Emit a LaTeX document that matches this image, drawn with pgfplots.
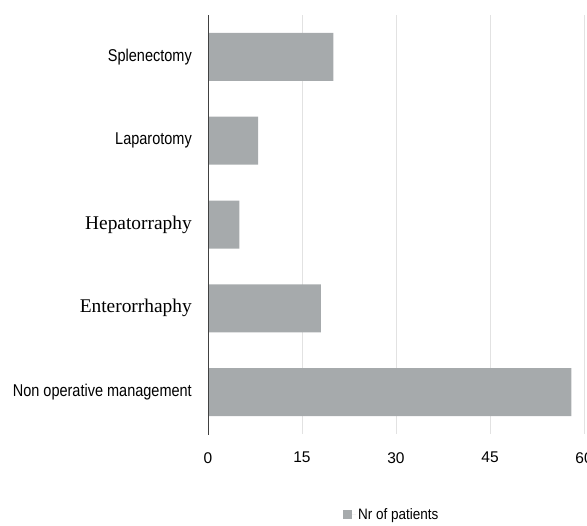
\documentclass[border=0pt]{standalone}
\usepackage{pgfplots}
\pgfplotsset{compat=1.18}
\usepackage{fontspec}
\setmainfont{Liberation Sans}
\newfontfamily\serifn{Liberation Serif}
\definecolor{barfill}{RGB}{166,170,172}
\definecolor{axisline}{RGB}{65,65,65}
\definecolor{gridc}{RGB}{226,226,226}
\newcommand{\sfl}[1]{\scalebox{1}[1.18]{\fontsize{14.5bp}{17bp}\selectfont #1}}
\newcommand{\sel}[1]{{\fontsize{19.4bp}{22bp}\selectfont\serifn #1}}
\begin{document}
\begin{tikzpicture}
\begin{axis}[
  at={(208bp,-434bp)}, anchor=south west,
  scale only axis, width=376bp, height=419bp,
  xbar, bar width=48bp,
  xmin=0, xmax=60, ymin=-0.5, ymax=4.5,
  xtick={0,15,30,45,60},
  ytick={0,1,2,3,4},
  yticklabels={{\sfl{Non operative management}},{\sel{Enterorrhaphy}},{\sel{Hepatorraphy}},{\sfl{Laparotomy}},{\sfl{Splenectomy}}},
  xmajorgrids, grid style={gridc, line width=1bp},
  axis line style={draw=none},
  major tick length=0pt,
  xticklabel style={font=\fontsize{15.5bp}{18bp}\selectfont, inner sep=0pt, anchor=north, yshift=-18bp},
  yticklabel style={inner sep=0pt, anchor=east, xshift=-16bp},
  /pgf/number format/assume math mode=true,
  legend style={at={(axis description cs:0.359,-0.193)}, anchor=west, draw=none, fill=none, inner sep=0pt, font=\fontsize{13.5bp}{16bp}\selectfont},
  legend image code/.code={\fill[barfill] (0bp,-4.5bp) rectangle (9bp,4.5bp); \path (0bp,0bp) -- (13bp,0bp);},
]
\addplot[fill=barfill, draw=none] coordinates {(58,0) (18,1) (5,2) (8,3) (20,4)};
\addlegendentry{\scalebox{1}[1.12]{Nr of patients}}
\draw[axisline, line width=2bp] (axis cs:0,-0.54) -- (axis cs:0,4.52);
\end{axis}
\pgfresetboundingbox
\path[use as bounding box] (0,0) rectangle (587bp,-526bp);
\end{tikzpicture}
\end{document}
